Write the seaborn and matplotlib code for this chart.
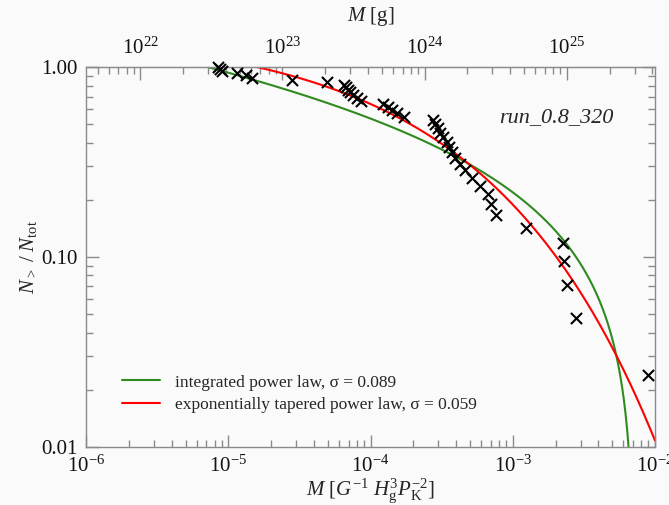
import numpy as np
import pandas as pd
import matplotlib
matplotlib.use("Agg")
import matplotlib.pyplot as plt
import matplotlib.ticker as mticker
import seaborn as sns

# Planetesimal masses in code units G^-1 H_g^3 P_K^-2 (run_0.8_320)
masses = [8.43e-6, 8.71e-6, 8.99e-6, 1.148e-5, 1.327e-5, 1.462e-5, 2.80e-5, 4.93e-5,
          6.49e-5, 6.70e-5, 6.92e-5, 7.16e-5, 7.52e-5, 8.02e-5, 8.55e-5,
          1.222e-4, 1.325e-4, 1.413e-4, 1.531e-4, 1.714e-4,
          2.74e-4, 2.83e-4, 2.97e-4, 3.07e-4, 3.22e-4, 3.44e-4, 3.56e-4, 3.73e-4,
          3.92e-4, 4.25e-4, 4.60e-4, 5.15e-4, 5.86e-4, 6.67e-4, 7.00e-4, 7.60e-4,
          1.236e-3, 2.25e-3, 2.29e-3, 2.40e-3, 2.78e-3, 8.91e-3]

# Conversion of the code mass unit to grams (top axis)
mass_unit_g = 10 ** 27.62
gram_ticks = [1e22, 1e23, 1e24, 1e25]

# Fit parameters
pl_index, pl_mmin, pl_mmax = -0.1, 7.18e-6, 7.2e-3          # integrated power law
tp_amp, tp_mcut, tp_shape = 1.585, 1.30e-4, 0.37            # exponentially tapered power law
legend_labels = ["integrated power law, σ = 0.089",
                 "exponentially tapered power law, σ = 0.059"]
run_name = "run_0.8_320"

# Cumulative fraction N(>M)/N_tot of the sample
m_sorted = np.sort(np.asarray(masses))
n_tot = len(m_sorted)
cum_frac = (n_tot - np.arange(n_tot)) / n_tot
pts = pd.DataFrame({"M": m_sorted, "frac": cum_frac})

# Model curves
m_pl = np.geomspace(pl_mmin, pl_mmax * 0.99999, 800)
y_pl = (m_pl ** pl_index - pl_mmax ** pl_index) / (pl_mmin ** pl_index - pl_mmax ** pl_index)
m_tp = np.geomspace(1e-6, 1e-2, 800)
y_tp = tp_amp * np.exp(-(m_tp / tp_mcut) ** tp_shape)
curves = pd.concat([
    pd.DataFrame({"M": m_pl, "frac": y_pl, "model": legend_labels[0]}),
    pd.DataFrame({"M": m_tp, "frac": y_tp, "model": legend_labels[1]}),
])

sns.set_style("white")
plt.rcParams["font.family"] = ["Liberation Serif", "DejaVu Serif"]
plt.rcParams["mathtext.fontset"] = "custom"
plt.rcParams["mathtext.rm"] = "Liberation Serif"
plt.rcParams["mathtext.it"] = "Liberation Serif:italic"
plt.rcParams["mathtext.bf"] = "Liberation Serif:bold"

bg = "#fafafa"
axis_grey = "#8a8a8a"
fig = plt.figure(figsize=(6.69, 5.05), dpi=100, facecolor=bg)
ax = fig.add_axes([0.129, 0.115, 0.850, 0.752], facecolor=bg)

sns.lineplot(data=curves, x="M", y="frac", hue="model",
             palette={legend_labels[0]: "#2f8a1f", legend_labels[1]: "#ff0000"},
             sort=False, estimator=None, lw=1.5, ax=ax)
sns.scatterplot(data=pts, x="M", y="frac", marker="x", color="black",
                s=64, linewidth=1.5, ax=ax, clip_on=False, zorder=5)

ax.set_xscale("log")
ax.set_yscale("log")
ax.set_xlim(1e-6, 1e-2)
ax.set_ylim(0.01, 1.0)

ax.xaxis.set_major_locator(mticker.LogLocator(base=10, numticks=10))
ax.xaxis.set_major_formatter(mticker.LogFormatterMathtext())
ax.xaxis.set_minor_locator(mticker.LogLocator(base=10, subs=np.arange(2, 10), numticks=50))
ax.xaxis.set_minor_formatter(mticker.NullFormatter())
ax.yaxis.set_major_locator(mticker.FixedLocator([0.01, 0.1, 1.0]))
ax.yaxis.set_major_formatter(mticker.FixedFormatter(["0.01", "0.10", "1.00"]))
ax.yaxis.set_minor_locator(mticker.LogLocator(base=10, subs=np.arange(2, 10), numticks=50))
ax.yaxis.set_minor_formatter(mticker.NullFormatter())

for sp in ax.spines.values():
    sp.set_color(axis_grey)
    sp.set_linewidth(1.0)
ax.tick_params(which="both", direction="in", color=axis_grey, width=1.0,
               left=True, right=True, bottom=True, top=False, labelsize=15,
               labelcolor="#111111")
ax.tick_params(which="major", length=9, pad=6)
ax.tick_params(which="minor", length=5)

ax.set_xlabel(r"$M\ [G^{-1}\ H_{\rm g}^{3}P_{\rm K}^{-2}]$", fontsize=15, labelpad=0)
ax.set_ylabel(r"$N_{>}\ /\ N_{\rm tot}$", fontsize=15, labelpad=2)

secax = ax.secondary_xaxis("top", functions=(lambda m: m * mass_unit_g,
                                              lambda g: g / mass_unit_g))
secax.xaxis.set_major_locator(mticker.FixedLocator(gram_ticks))
secax.xaxis.set_major_formatter(mticker.LogFormatterMathtext())
secax.xaxis.set_minor_locator(mticker.LogLocator(base=10, subs=np.arange(2, 10), numticks=50))
secax.xaxis.set_minor_formatter(mticker.NullFormatter())
secax.tick_params(which="both", direction="in", color=axis_grey, width=1.0,
                  labelsize=15, labelcolor="#111111")
secax.tick_params(which="major", length=9, pad=6)
secax.tick_params(which="minor", length=5)
secax.spines["top"].set_color(axis_grey)
secax.set_xlabel(r"$M$ [g]", fontsize=15, labelpad=12)

ax.text(0.826, 0.866, run_name, transform=ax.transAxes, fontsize=16,
        style="italic", ha="center", va="center")

ax.legend(loc="lower left", bbox_to_anchor=(0.062, 0.09), frameon=False,
          fontsize=12.5, handlelength=2.2, handletextpad=0.9, labelspacing=0.35,
          borderaxespad=0, borderpad=0)

fig.savefig("out.png", dpi=100, facecolor=bg)
